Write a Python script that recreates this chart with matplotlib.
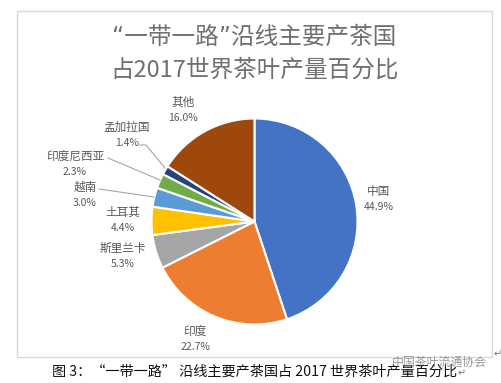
import matplotlib
matplotlib.use('Agg')
import matplotlib.pyplot as plt
from matplotlib.patches import Rectangle

plt.rcParams['font.family'] = ['Noto Sans CJK SC', 'DejaVu Sans']

W, H = 502, 383

# данные
countries = ['中国', '印度', '斯里兰卡', '土耳其', '越南', '印度尼西亚', '孟加拉国', '其他']
shares = [44.9, 22.7, 5.3, 4.4, 3.0, 2.3, 1.4, 16.0]
colors = ['#4472c4', '#ed7d31', '#a5a5a5', '#ffc000', '#5b9bd5', '#70ad47', '#264478', '#9e480e']
title_lines = ['“一带一路”沿线主要产茶国', '占2017世界茶叶产量百分比']
caption = '图 3：“一带一路” 沿线主要产茶国占 2017 世界茶叶产量百分比'
watermark = '中国茶叶流通协会'

# позиции подписей в пикселях картинки
label_pos = [(379, 191), (195, 331), (123, 248), (123, 212), (85, 187), (75, 156), (127, 127), (183, 102)]

# линии-выноски: от подписи к сектору
leaders = [
    [(99, 189), (154, 197)],
    [(108, 158), (160, 180)],
    [(140, 145), (146, 145), (165, 168)],
]

fig = plt.figure(figsize=(W / 100, H / 100), dpi=100, facecolor='white')

bg = fig.add_axes([0, 0, 1, 1])
bg.set_xlim(0, W)
bg.set_ylim(H, 0)
bg.axis('off')
bg.add_patch(Rectangle((17.5, 10.5), 475, 346, fill=False, edgecolor='#d9d9d9', linewidth=1))

# круг: центр (254.5, 221.5), радиус 103 пикселя
r = 103
pie_ax = fig.add_axes([(254.5 - r) / W, 1 - (221.5 + r) / H, 2 * r / W, 2 * r / H])
pie_ax.pie(shares, colors=colors, startangle=90, counterclock=False, radius=1,
           wedgeprops={'edgecolor': 'white', 'linewidth': 1.5})
pie_ax.set_xlim(-1, 1)
pie_ax.set_ylim(-1, 1)

overlay = fig.add_axes([0, 0, 1, 1])
overlay.set_xlim(0, W)
overlay.set_ylim(H, 0)
overlay.axis('off')
overlay.patch.set_alpha(0)

# узкие кавычки берём из DejaVu, иероглифы из Noto
overlay.text(254, 37, title_lines[0], ha='center', va='center', fontsize=17, color='#707070',
             family=['DejaVu Sans', 'Noto Sans CJK SC'])
overlay.text(255, 70, title_lines[1], ha='center', va='center', fontsize=17, color='#707070')

for name, val, (x, y) in zip(countries, shares, label_pos):
    overlay.text(x, y, name, ha='center', va='center', fontsize=8.4, color='#595959')
    overlay.text(x, y + 16, f'{val:.1f}%', ha='center', va='center', fontsize=7.5, color='#595959')

for pts in leaders:
    overlay.plot([p[0] for p in pts], [p[1] for p in pts], color='#a6a6a6', linewidth=0.8)

overlay.text(254.5, 372, caption, ha='center', va='center', fontsize=10.2, color='#111111')
overlay.text(439.5, 362, watermark, ha='center', va='center', fontsize=8.6, color='#777777', alpha=0.75)
overlay.text(458, 373, '↵', ha='left', va='center', fontsize=7, color='#777777')
overlay.text(494, 354, '↵', ha='left', va='center', fontsize=7, color='#777777')

fig.savefig('out.png', dpi=100, facecolor='white')
plt.close(fig)
